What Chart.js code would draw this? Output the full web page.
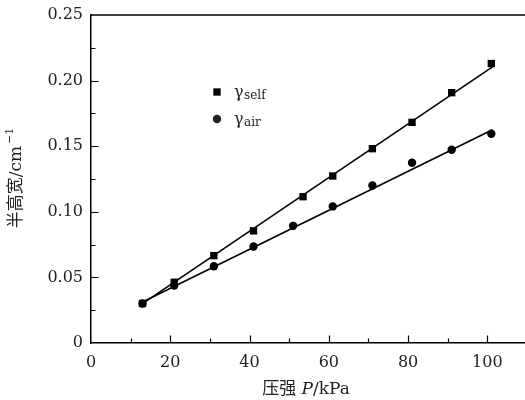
<!DOCTYPE html>
<html>
<head>
<meta charset="utf-8">
<script src="https://cdn.jsdelivr.net/npm/chart.js@4/dist/chart.umd.min.js"></script>
<style>
html,body{margin:0;padding:0;background:#fff;}
#wrap{width:525px;height:400px;}
</style>
</head>
<body>
<div id="wrap"><canvas id="c" width="525" height="400"></canvas></div>
<script>
// Data
const pressureSelf = [13, 21, 31, 41, 53.5, 61, 71, 81, 91, 101];
const gammaSelf    = [0.0301, 0.0463, 0.0666, 0.0855, 0.1115, 0.1273, 0.1481, 0.1682, 0.1908, 0.2130];
const pressureAir  = [13, 21, 31, 41, 51, 61, 71, 81, 91, 101];
const gammaAir     = [0.0301, 0.0438, 0.0585, 0.0736, 0.0893, 0.1041, 0.1201, 0.1374, 0.1473, 0.1595];
// Fitted straight lines (end points)
const fitSelfX = [13, 101.3];
const fitSelfY = [0.0300, 0.2105];
const fitAirX  = [13, 101.3];
const fitAirY  = [0.0312, 0.1625];
// Tick labels
const xTicks = [0, 20, 40, 60, 80, 100];
const yTicks = [0, 0.05, 0.10, 0.15, 0.20, 0.25];
const xTitleParts = ['压强 ', 'P', '/kPa'];
const yTitleMain = '半高宽/cm';
const yTitleSup = '−1';
const legendNames = [['γ', 'self'], ['γ', 'air']];

const FONT = '"DejaVu Serif", "Noto Sans CJK SC", serif';
const TXT = '#222';

const pts = (xs, ys) => xs.map((x, i) => ({x, y: ys[i]}));

const decor = {
  id: 'decor',
  afterDraw(chart) {
    const {ctx, chartArea: a, scales: {x, y}} = chart;
    ctx.save();
    ctx.strokeStyle = '#000';
    ctx.lineWidth = 1.5;
    // top border
    ctx.beginPath();
    ctx.moveTo(a.left, a.top);
    ctx.lineTo(525, a.top);
    ctx.stroke();
    // inward ticks, x
    ctx.lineWidth = 1.2;
    ctx.beginPath();
    for (let v = 10; v <= 100; v += 10) {
      const px = Math.round(x.getPixelForValue(v)) + 0.5;
      const len = (v % 20 === 0) ? 7.5 : 4.5;
      ctx.moveTo(px, a.bottom);
      ctx.lineTo(px, a.bottom - len);
    }
    // inward ticks, y
    for (let k = 1; k <= 9; k++) {
      const v = k * 0.025;
      const py = Math.round(y.getPixelForValue(v)) + 0.5;
      const len = (k % 2 === 0) ? 7.5 : 4.5;
      ctx.moveTo(a.left, py);
      ctx.lineTo(a.left + len, py);
    }
    ctx.stroke();

    // legend
    const lx = 217, ly = [92, 119];
    chart.data.datasets.slice(0, 2).forEach((ds, i) => {
      Chart.helpers.drawPoint(ctx, {pointStyle: ds.pointStyle, radius: ds.pointRadius, borderWidth: 0}, lx, ly[i]);
      ctx.fillStyle = TXT;
      ctx.textBaseline = 'alphabetic';
      ctx.textAlign = 'left';
      ctx.font = '16px ' + FONT;
      ctx.fillText(legendNames[i][0], 234, ly[i] + 5);
      const w = ctx.measureText(legendNames[i][0]).width;
      ctx.font = '12px ' + FONT;
      ctx.fillText(legendNames[i][1], 234 + w + 0.5, ly[i] + 7);
    });

    // x title
    ctx.fillStyle = TXT;
    ctx.textBaseline = 'alphabetic';
    ctx.textAlign = 'left';
    const fonts = ['17px ' + FONT, 'italic 17px ' + FONT, '17px ' + FONT];
    let total = 0;
    xTitleParts.forEach((t, i) => { ctx.font = fonts[i]; total += ctx.measureText(t).width; });
    let cx = 306 - total / 2;
    xTitleParts.forEach((t, i) => { ctx.font = fonts[i]; ctx.fillText(t, cx, 394); cx += ctx.measureText(t).width; });

    // y title (rotated)
    ctx.save();
    ctx.translate(21, (a.top + a.bottom) / 2);
    ctx.rotate(-Math.PI / 2);
    ctx.font = '17px ' + FONT;
    const w1 = ctx.measureText(yTitleMain).width;
    ctx.font = '11px ' + FONT;
    const w2 = ctx.measureText(yTitleSup).width;
    let sx = -(w1 + w2) / 2;
    ctx.font = '17px ' + FONT;
    ctx.fillText(yTitleMain, sx, 0);
    ctx.font = '11px ' + FONT;
    ctx.fillText(yTitleSup, sx + w1 + 2, -8);
    ctx.restore();
    ctx.restore();
  }
};

new Chart(document.getElementById('c'), {
  type: 'scatter',
  data: {
    datasets: [
      {label: 'γself', data: pts(pressureSelf, gammaSelf), pointStyle: 'rect', pointRadius: 5.2, backgroundColor: '#000', borderWidth: 0, showLine: false},
      {label: 'γair', data: pts(pressureAir, gammaAir), pointStyle: 'circle', pointRadius: 4.2, backgroundColor: '#000', borderWidth: 0, showLine: false},
      {label: 'fit self', data: pts(fitSelfX, fitSelfY), showLine: true, borderColor: '#000', borderWidth: 1.6, pointRadius: 0},
      {label: 'fit air', data: pts(fitAirX, fitAirY), showLine: true, borderColor: '#000', borderWidth: 1.6, pointRadius: 0}
    ]
  },
  options: {
    responsive: false,
    animation: false,
    devicePixelRatio: 1,
    layout: {autoPadding: false, padding: {top: 15, right: 0, left: 0, bottom: 0}},
    plugins: {legend: {display: false}, tooltip: {enabled: false}},
    scales: {
      x: {
        type: 'linear', min: 0, max: 109.5,
        afterBuildTicks: s => { s.ticks = xTicks.map(v => ({value: v})); },
        afterFit: s => { s.height = 57; s.paddingLeft = 0; s.paddingRight = 0; },
        grid: {display: false, drawTicks: false},
        border: {display: true, color: '#000', width: 1.5},
        ticks: {color: TXT, font: {family: FONT, size: 16}, padding: 10, maxRotation: 0, callback: v => String(v)}
      },
      y: {
        type: 'linear', min: 0, max: 0.25,
        afterBuildTicks: s => { s.ticks = yTicks.map(v => ({value: v})); },
        afterFit: s => { s.width = 91; s.paddingTop = 0; s.paddingBottom = 0; },
        grid: {display: false, drawTicks: false},
        border: {display: true, color: '#000', width: 1.5},
        ticks: {color: TXT, font: {family: FONT, size: 16}, padding: 8, callback: v => v === 0 ? '0' : v.toFixed(2)}
      }
    }
  },
  plugins: [decor]
});
</script>
</body>
</html>
